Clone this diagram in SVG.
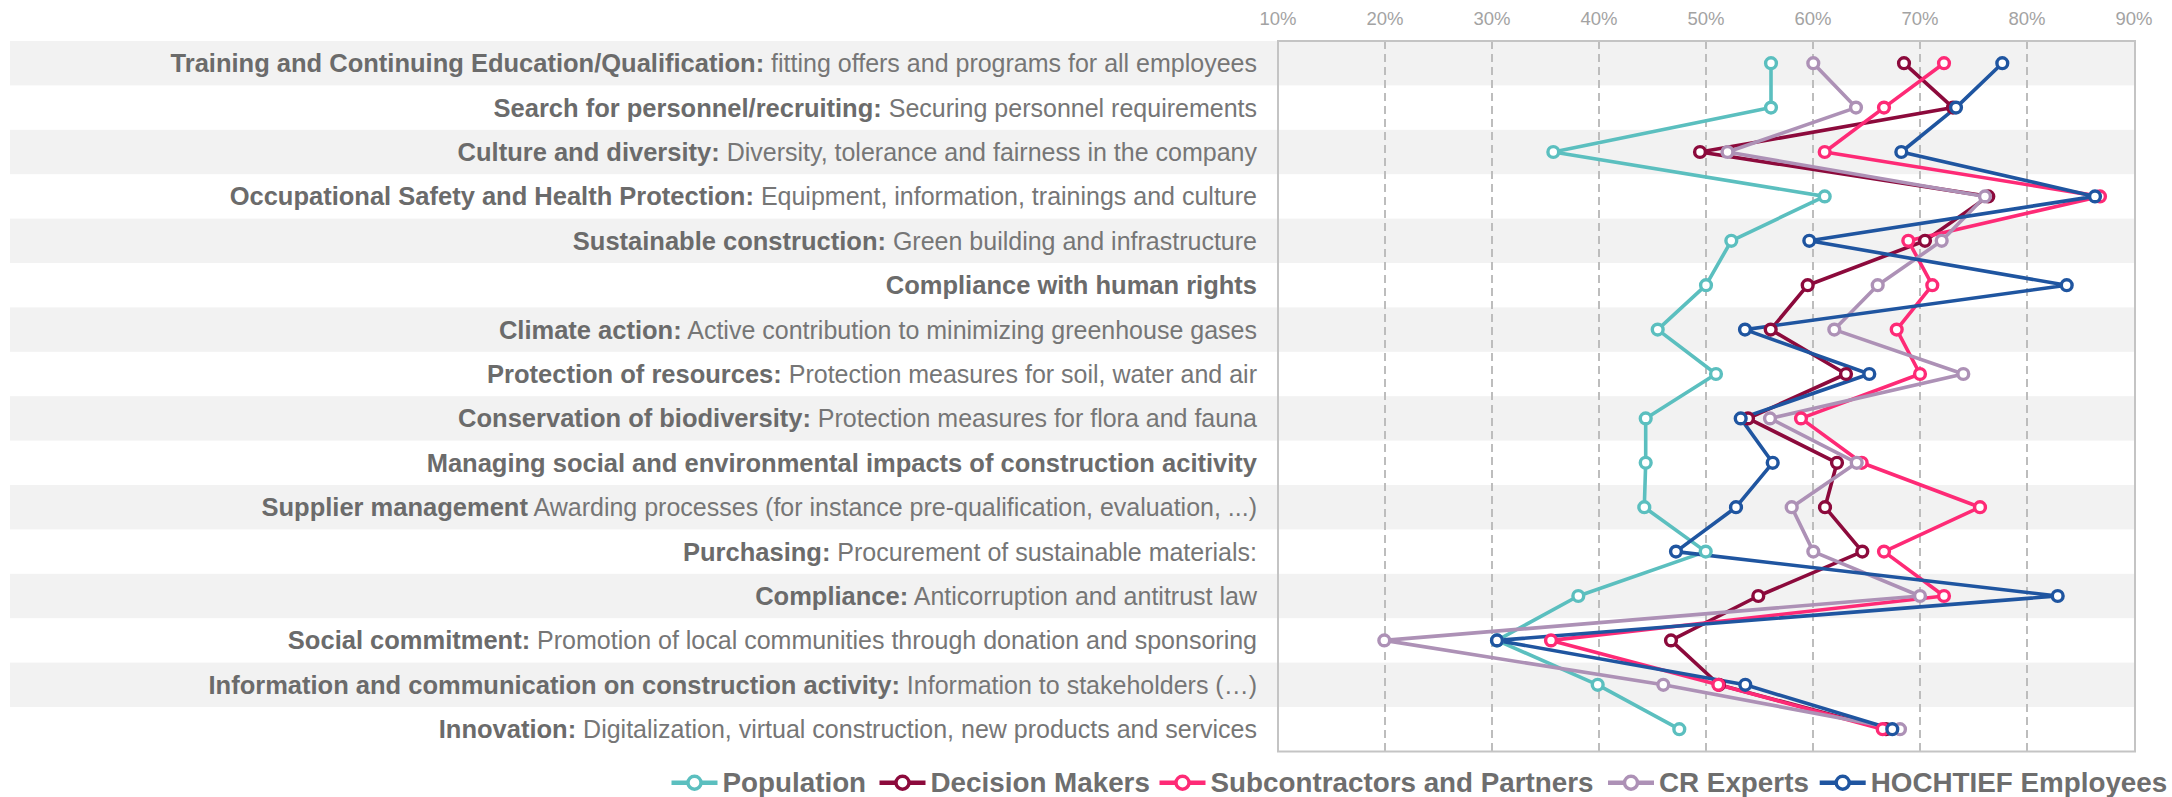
<svg xmlns="http://www.w3.org/2000/svg" width="2172" height="797" viewBox="0 0 2172 797">
<style>
.band{fill:#f2f2f2}
.grid{stroke:#bdbdbd;stroke-width:2;stroke-dasharray:8 5;fill:none}
.frame{stroke:#c4c4c4;stroke-width:2;fill:none}
.tick{font-family:"Liberation Sans",Arial,sans-serif;font-size:18.5px;fill:#a3a3a3;text-anchor:middle}
.lbl{font-family:"Liberation Sans",Arial,sans-serif;font-size:25.5px;text-anchor:end}
.b{font-weight:bold;fill:#6b6b6b}
.r{font-weight:normal;fill:#767676;font-size:25px}
.ser{fill:none;stroke-width:3.6;stroke-linejoin:round}
.mk{fill:#fff;stroke-width:3.4}
.leg{font-family:"Liberation Sans",Arial,sans-serif;font-size:27.8px;font-weight:bold;fill:#6e6e6e}
.pop{stroke:#5bbfbf}
.dm{stroke:#8c0a3c}
.sub{stroke:#fe2a76}
.cr{stroke:#ad91b6}
.ht{stroke:#1f55a0}
</style>
<rect width="2172" height="797" fill="#fff"/>
<g id="bands">
<rect class="band" x="10" y="41" width="2125" height="44.4"/>
<rect class="band" x="10" y="129.8" width="2125" height="44.4"/>
<rect class="band" x="10" y="218.6" width="2125" height="44.4"/>
<rect class="band" x="10" y="307.4" width="2125" height="44.4"/>
<rect class="band" x="10" y="396.2" width="2125" height="44.4"/>
<rect class="band" x="10" y="485" width="2125" height="44.4"/>
<rect class="band" x="10" y="573.8" width="2125" height="44.4"/>
<rect class="band" x="10" y="662.6" width="2125" height="44.4"/>
</g>
<g id="axis">
<line class="grid" x1="1385" y1="41" x2="1385" y2="751.5"/>
<line class="grid" x1="1492" y1="41" x2="1492" y2="751.5"/>
<line class="grid" x1="1599" y1="41" x2="1599" y2="751.5"/>
<line class="grid" x1="1706" y1="41" x2="1706" y2="751.5"/>
<line class="grid" x1="1813" y1="41" x2="1813" y2="751.5"/>
<line class="grid" x1="1920" y1="41" x2="1920" y2="751.5"/>
<line class="grid" x1="2027" y1="41" x2="2027" y2="751.5"/>
<rect class="frame" x="1278" y="41" width="857" height="710.5"/>
<text class="tick" x="1278" y="25">10%</text>
<text class="tick" x="1385" y="25">20%</text>
<text class="tick" x="1492" y="25">30%</text>
<text class="tick" x="1599" y="25">40%</text>
<text class="tick" x="1706" y="25">50%</text>
<text class="tick" x="1813" y="25">60%</text>
<text class="tick" x="1920" y="25">70%</text>
<text class="tick" x="2027" y="25">80%</text>
<text class="tick" x="2134" y="25">90%</text>
</g>
<g id="labels">
<text id="row0" class="lbl" x="1257" y="72.2"><tspan class="b">Training and Continuing Education/Qualification:</tspan><tspan class="r"> fitting offers and programs for all employees</tspan></text>
<text id="row1" class="lbl" x="1257" y="116.6"><tspan class="b">Search for personnel/recruiting:</tspan><tspan class="r"> Securing personnel requirements</tspan></text>
<text id="row2" class="lbl" x="1257" y="161"><tspan class="b">Culture and diversity:</tspan><tspan class="r"> Diversity, tolerance and fairness in the company</tspan></text>
<text id="row3" class="lbl" x="1257" y="205.4"><tspan class="b">Occupational Safety and Health Protection:</tspan><tspan class="r"> Equipment, information, trainings and culture</tspan></text>
<text id="row4" class="lbl" x="1257" y="249.8"><tspan class="b">Sustainable construction:</tspan><tspan class="r"> Green building and infrastructure</tspan></text>
<text id="row5" class="lbl" x="1257" y="294.2"><tspan class="b">Compliance with human rights</tspan></text>
<text id="row6" class="lbl" x="1257" y="338.6"><tspan class="b">Climate action:</tspan><tspan class="r"> Active contribution to minimizing greenhouse gases</tspan></text>
<text id="row7" class="lbl" x="1257" y="383"><tspan class="b">Protection of resources:</tspan><tspan class="r"> Protection measures for soil, water and air</tspan></text>
<text id="row8" class="lbl" x="1257" y="427.4"><tspan class="b">Conservation of biodiversity:</tspan><tspan class="r"> Protection measures for flora and fauna</tspan></text>
<text id="row9" class="lbl" x="1257" y="471.8"><tspan class="b">Managing social and environmental impacts of construction acitivity</tspan></text>
<text id="row10" class="lbl" x="1257" y="516.2"><tspan class="b">Supplier management</tspan><tspan class="r"> Awarding processes (for instance pre-qualification, evaluation, ...)</tspan></text>
<text id="row11" class="lbl" x="1257" y="560.6"><tspan class="b">Purchasing:</tspan><tspan class="r"> Procurement of sustainable materials:</tspan></text>
<text id="row12" class="lbl" x="1257" y="605"><tspan class="b">Compliance:</tspan><tspan class="r"> Anticorruption and antitrust law</tspan></text>
<text id="row13" class="lbl" x="1257" y="649.4"><tspan class="b">Social commitment:</tspan><tspan class="r"> Promotion of local communities through donation and sponsoring</tspan></text>
<text id="row14" class="lbl" x="1257" y="693.8"><tspan class="b">Information and communication on construction activity:</tspan><tspan class="r"> Information to stakeholders (…)</tspan></text>
<text id="row15" class="lbl" x="1257" y="738.2"><tspan class="b">Innovation:</tspan><tspan class="r"> Digitalization, virtual construction, new products and services</tspan></text>
</g>
<g id="connectors">
<polyline class="ser pop" points="1771,63.2 1771,107.6 1553.3,152 1824.7,196.4 1731.3,240.8 1706,285.2 1657.7,329.6 1716,374 1645.7,418.4 1645.7,462.8 1644.3,507.2 1705.7,551.6 1578.3,596 1497,640.4 1597.7,684.8 1679.3,729.2"/>
<polyline class="ser dm" points="1904,63.2 1953,107.6 1700,152 1988.3,196.4 1925,240.8 1807.7,285.2 1770.7,329.6 1846,374 1748,418.4 1837,462.8 1825,507.2 1862.3,551.6 1758.3,596 1671,640.4 1719,684.8 1886,729.2"/>
<polyline class="ser sub" points="1944,63.2 1884,107.6 1824.7,152 2100,196.4 1908.3,240.8 1932.3,285.2 1896.7,329.6 1920,374 1801,418.4 1861.7,462.8 1980,507.2 1884,551.6 1944,596 1551,640.4 1718.3,684.8 1882.7,729.2"/>
<polyline class="ser cr" points="1813.3,63.2 1856,107.6 1727.5,152 1985,196.4 1941.7,240.8 1877.7,285.2 1834.3,329.6 1963.3,374 1770,418.4 1856.7,462.8 1791.7,507.2 1813.3,551.6 1920,596 1384.3,640.4 1663.3,684.8 1900,729.2"/>
<polyline class="ser ht" points="2002.3,63.2 1956,107.6 1901.3,152 2095,196.4 1809.3,240.8 2066.7,285.2 1745,329.6 1869.3,374 1740.7,418.4 1772.7,462.8 1736,507.2 1676,551.6 2057.7,596 1497,640.4 1745.3,684.8 1892.3,729.2"/>
</g>
<g id="population" class="pop">
<circle class="mk" r="5.4" cx="1771" cy="63.2"/><circle class="mk" r="5.4" cx="1771" cy="107.6"/><circle class="mk" r="5.4" cx="1553.3" cy="152"/><circle class="mk" r="5.4" cx="1824.7" cy="196.4"/><circle class="mk" r="5.4" cx="1731.3" cy="240.8"/><circle class="mk" r="5.4" cx="1706" cy="285.2"/><circle class="mk" r="5.4" cx="1657.7" cy="329.6"/><circle class="mk" r="5.4" cx="1716" cy="374"/><circle class="mk" r="5.4" cx="1645.7" cy="418.4"/><circle class="mk" r="5.4" cx="1645.7" cy="462.8"/><circle class="mk" r="5.4" cx="1644.3" cy="507.2"/><circle class="mk" r="5.4" cx="1705.7" cy="551.6"/><circle class="mk" r="5.4" cx="1578.3" cy="596"/><circle class="mk" r="5.4" cx="1497" cy="640.4"/><circle class="mk" r="5.4" cx="1597.7" cy="684.8"/><circle class="mk" r="5.4" cx="1679.3" cy="729.2"/>
</g>
<g id="decision-makers" class="dm">
<circle class="mk" r="5.4" cx="1904" cy="63.2"/><circle class="mk" r="5.4" cx="1953" cy="107.6"/><circle class="mk" r="5.4" cx="1700" cy="152"/><circle class="mk" r="5.4" cx="1988.3" cy="196.4"/><circle class="mk" r="5.4" cx="1925" cy="240.8"/><circle class="mk" r="5.4" cx="1807.7" cy="285.2"/><circle class="mk" r="5.4" cx="1770.7" cy="329.6"/><circle class="mk" r="5.4" cx="1846" cy="374"/><circle class="mk" r="5.4" cx="1748" cy="418.4"/><circle class="mk" r="5.4" cx="1837" cy="462.8"/><circle class="mk" r="5.4" cx="1825" cy="507.2"/><circle class="mk" r="5.4" cx="1862.3" cy="551.6"/><circle class="mk" r="5.4" cx="1758.3" cy="596"/><circle class="mk" r="5.4" cx="1671" cy="640.4"/><circle class="mk" r="5.4" cx="1719" cy="684.8"/><circle class="mk" r="5.4" cx="1886" cy="729.2"/>
</g>
<g id="subcontractors" class="sub">
<circle class="mk" r="5.4" cx="1944" cy="63.2"/><circle class="mk" r="5.4" cx="1884" cy="107.6"/><circle class="mk" r="5.4" cx="1824.7" cy="152"/><circle class="mk" r="5.4" cx="2100" cy="196.4"/><circle class="mk" r="5.4" cx="1908.3" cy="240.8"/><circle class="mk" r="5.4" cx="1932.3" cy="285.2"/><circle class="mk" r="5.4" cx="1896.7" cy="329.6"/><circle class="mk" r="5.4" cx="1920" cy="374"/><circle class="mk" r="5.4" cx="1801" cy="418.4"/><circle class="mk" r="5.4" cx="1861.7" cy="462.8"/><circle class="mk" r="5.4" cx="1980" cy="507.2"/><circle class="mk" r="5.4" cx="1884" cy="551.6"/><circle class="mk" r="5.4" cx="1944" cy="596"/><circle class="mk" r="5.4" cx="1551" cy="640.4"/><circle class="mk" r="5.4" cx="1718.3" cy="684.8"/><circle class="mk" r="5.4" cx="1882.7" cy="729.2"/>
</g>
<g id="cr-experts" class="cr">
<circle class="mk" r="5.4" cx="1813.3" cy="63.2"/><circle class="mk" r="5.4" cx="1856" cy="107.6"/><circle class="mk" r="5.4" cx="1727.5" cy="152"/><circle class="mk" r="5.4" cx="1985" cy="196.4"/><circle class="mk" r="5.4" cx="1941.7" cy="240.8"/><circle class="mk" r="5.4" cx="1877.7" cy="285.2"/><circle class="mk" r="5.4" cx="1834.3" cy="329.6"/><circle class="mk" r="5.4" cx="1963.3" cy="374"/><circle class="mk" r="5.4" cx="1770" cy="418.4"/><circle class="mk" r="5.4" cx="1856.7" cy="462.8"/><circle class="mk" r="5.4" cx="1791.7" cy="507.2"/><circle class="mk" r="5.4" cx="1813.3" cy="551.6"/><circle class="mk" r="5.4" cx="1920" cy="596"/><circle class="mk" r="5.4" cx="1384.3" cy="640.4"/><circle class="mk" r="5.4" cx="1663.3" cy="684.8"/><circle class="mk" r="5.4" cx="1900" cy="729.2"/>
</g>
<g id="hochtief" class="ht">
<circle class="mk" r="5.4" cx="2002.3" cy="63.2"/><circle class="mk" r="5.4" cx="1956" cy="107.6"/><circle class="mk" r="5.4" cx="1901.3" cy="152"/><circle class="mk" r="5.4" cx="2095" cy="196.4"/><circle class="mk" r="5.4" cx="1809.3" cy="240.8"/><circle class="mk" r="5.4" cx="2066.7" cy="285.2"/><circle class="mk" r="5.4" cx="1745" cy="329.6"/><circle class="mk" r="5.4" cx="1869.3" cy="374"/><circle class="mk" r="5.4" cx="1740.7" cy="418.4"/><circle class="mk" r="5.4" cx="1772.7" cy="462.8"/><circle class="mk" r="5.4" cx="1736" cy="507.2"/><circle class="mk" r="5.4" cx="1676" cy="551.6"/><circle class="mk" r="5.4" cx="2057.7" cy="596"/><circle class="mk" r="5.4" cx="1497" cy="640.4"/><circle class="mk" r="5.4" cx="1745.3" cy="684.8"/><circle class="mk" r="5.4" cx="1892.3" cy="729.2"/>
</g>
<g id="legend">
<g id="leg-pop"><line class="pop" stroke-width="4.5" x1="671.5" y1="782.7" x2="717.5" y2="782.7"/><circle class="mk pop" r="6.5" cx="694.5" cy="782.7"/><text class="leg" x="722.5" y="792">Population</text></g>
<g id="leg-dm"><line class="dm" stroke-width="4.5" x1="879.5" y1="782.7" x2="925.5" y2="782.7"/><circle class="mk dm" r="6.5" cx="902.5" cy="782.7"/><text class="leg" x="930.5" y="792">Decision Makers</text></g>
<g id="leg-sub"><line class="sub" stroke-width="4.5" x1="1159.5" y1="782.7" x2="1205.5" y2="782.7"/><circle class="mk sub" r="6.5" cx="1182.5" cy="782.7"/><text class="leg" x="1210.5" y="792">Subcontractors and Partners</text></g>
<g id="leg-cr"><line class="cr" stroke-width="4.5" x1="1608" y1="782.7" x2="1654" y2="782.7"/><circle class="mk cr" r="6.5" cx="1631" cy="782.7"/><text class="leg" x="1659" y="792">CR Experts</text></g>
<g id="leg-ht"><line class="ht" stroke-width="4.5" x1="1819.7" y1="782.7" x2="1865.7" y2="782.7"/><circle class="mk ht" r="6.5" cx="1842.7" cy="782.7"/><text class="leg" x="1870.7" y="792">HOCHTIEF Employees</text></g>
</g>
</svg>
